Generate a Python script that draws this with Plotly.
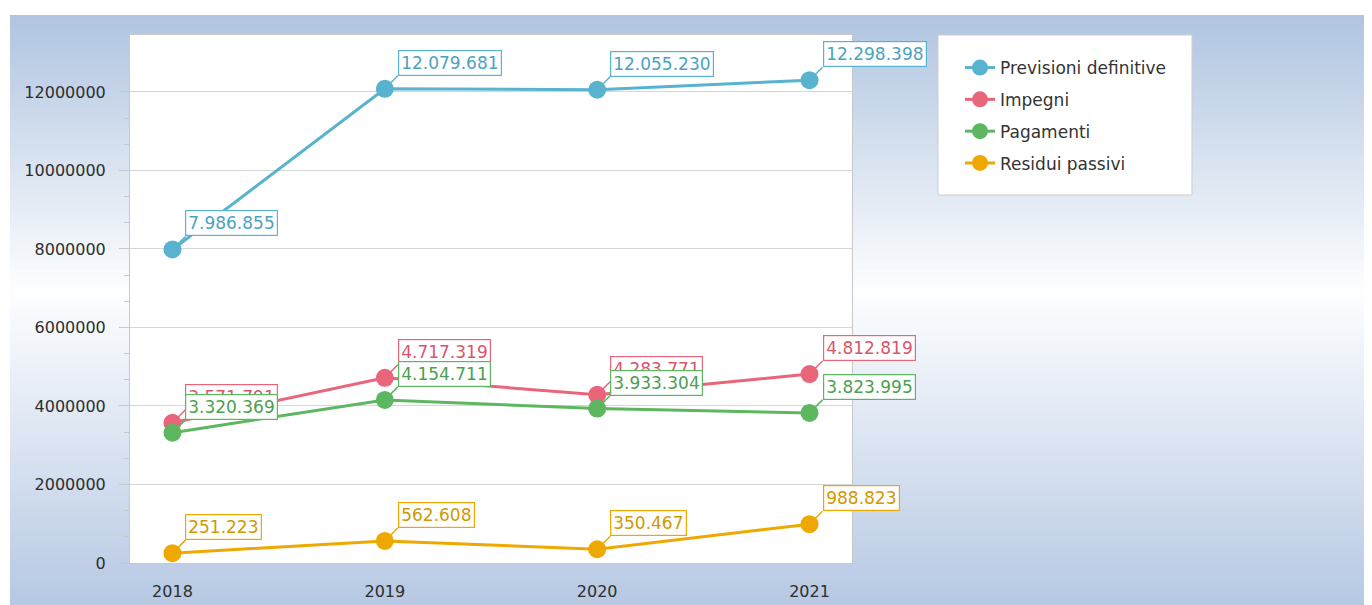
import plotly.graph_objects as go

years = [2018, 2019, 2020, 2021]
series_names = ["Previsioni definitive", "Impegni", "Pagamenti", "Residui passivi"]
previsioni = [7986855, 12079681, 12055230, 12298398]
impegni = [3571791, 4717319, 4283771, 4812819]
pagamenti = [3320369, 4154711, 3933304, 3823995]
residui = [251223, 562608, 350467, 988823]
y_ticks = [0, 2000000, 4000000, 6000000, 8000000, 10000000, 12000000]
y_ticklabels = ["0", "2000000", "4000000", "6000000", "8000000", "10000000", "12000000"]

line_colors = ["#57B3CE", "#E8657A", "#5DB660", "#EEA800"]
text_colors = ["#4AA3C0", "#D9566A", "#4C9F50", "#D19800"]
all_values = [previsioni, impegni, pagamenti, residui]

OFF = 8  # page body margin
PW, PH = 1372, 605
W, H = PW - OFF, PH - OFF
# plot area in page px
L, R, T, B = 130, 852, 35, 563


def px2x(px):
    return (px - L) / (R - L)


def px2y(py):
    return (B - py) / (B - T)


def fmt(v):
    return f"{v:,}".replace(",", ".")


fig = go.Figure()
for name, vals, lc in zip(series_names, all_values, line_colors):
    fig.add_trace(go.Scatter(
        x=years, y=vals, name=name, mode="lines+markers",
        line=dict(color=lc, width=3),
        marker=dict(color=lc, size=18),
        legendgroup=name,
    ))

shapes = []
# background gradient bands (page coordinates)
top_c = (176, 196, 224)
mid_c = (253, 254, 255)
bot_c = (182, 200, 227)
mid_py = 292
step = 5
py = 15
while py < PH:
    pm = py + step / 2
    if pm <= mid_py:
        t = (pm - 15) / (mid_py - 15)
        c = tuple(int(round(a + (b - a) * t)) for a, b in zip(top_c, mid_c))
    else:
        t = (pm - mid_py) / (PH - mid_py)
        c = tuple(int(round(a + (b - a) * t)) for a, b in zip(mid_c, bot_c))
    col = "rgb(%d,%d,%d)" % c
    shapes.append(dict(type="rect", xref="paper", yref="paper", layer="below",
                       x0=px2x(10), x1=px2x(PW + 5), y0=px2y(py), y1=px2y(min(py + step + 0.5, PH + 5)),
                       fillcolor=col, line=dict(width=0)))
    py += step
# plot area white
shapes.append(dict(type="rect", xref="paper", yref="paper", layer="below",
                   x0=0, x1=1, y0=0, y1=1, fillcolor="white", line=dict(width=0)))
# legend box
shapes.append(dict(type="rect", xref="paper", yref="paper", layer="below",
                   x0=px2x(938), x1=px2x(1192), y0=px2y(195), y1=px2y(35),
                   fillcolor="white", line=dict(color="#cdcdcd", width=1)))

annotations = []
for vals, lc, tc in zip(all_values, line_colors, text_colors):
    for yr, v in zip(years, vals):
        annotations.append(dict(
            x=yr, y=v, xref="x", yref="y", text=fmt(v),
            showarrow=True, arrowhead=0, arrowwidth=1.5, arrowcolor=lc,
            ax=13, ay=-13, xanchor="left", yanchor="bottom",
            font=dict(family="DejaVu Sans", size=17, color=tc),
            bgcolor="white", bordercolor=lc, borderwidth=1.2, borderpad=2,
        ))

fig.update_layout(
    width=W, height=H,
    margin=dict(l=L - OFF, r=PW - R, t=T - OFF, b=PH - B, pad=0, autoexpand=False),
    paper_bgcolor="white", plot_bgcolor="white",
    shapes=shapes, annotations=annotations,
    font=dict(family="DejaVu Sans", size=16, color="#2d2d2d"),
    legend=dict(x=px2x(960), y=px2y(50), xanchor="left", yanchor="top",
                bgcolor="rgba(0,0,0,0)", borderwidth=0,
                font=dict(family="DejaVu Sans", size=17, color="#333333"),
                tracegroupgap=6.7),
    showlegend=True,
)
fig.update_xaxes(
    range=[2017.8, 2021.2], tickvals=years, ticktext=[str(y) for y in years],
    showgrid=False, zeroline=False, showline=True, linecolor="#c8c8c8", linewidth=1,
    mirror=True, ticks="", ticklabelstandoff=14, automargin=False,
    tickfont=dict(family="DejaVu Sans", size=16, color="#2d2d2d"),
)
fig.update_yaxes(
    range=[0, 13450000], tickvals=y_ticks, ticktext=y_ticklabels,
    showgrid=True, gridcolor="#d6d6d6", gridwidth=1, zeroline=False,
    showline=True, linecolor="#c8c8c8", linewidth=1, mirror=True,
    ticks="outside", ticklen=10, tickcolor="#c8c8c8", ticklabelstandoff=10, automargin=False,
    tickfont=dict(family="DejaVu Sans", size=16, color="#2d2d2d"),
    minor=dict(dtick=2000000 / 3, tick0=0, ticks="outside", ticklen=5, tickcolor="#c8c8c8", showgrid=False),
)

fig.write_html("out.html")
